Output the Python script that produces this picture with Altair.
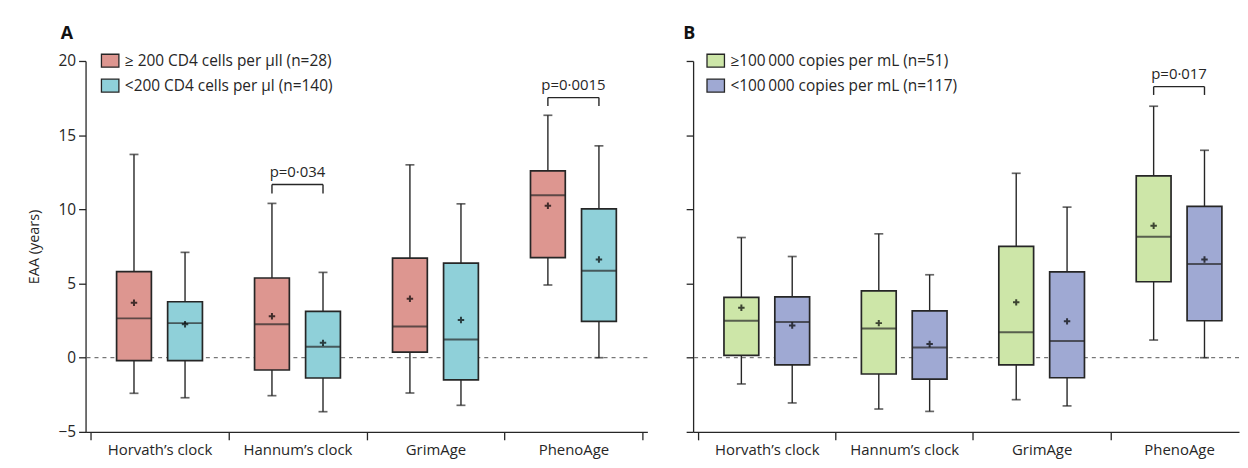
import altair as alt
import pandas as pd

FONT = "Open Sans"
INK = "#262626"

clocks = ["Horvath\u2019s clock", "Hannum\u2019s clock", "GrimAge", "PhenoAge"]

# ---------- Panel A: CD4 count ----------
groups_a = ["\u2265 200 CD4 cells per \u00b5ll (n=28)", "<200 CD4 cells per \u00b5l (n=140)"]
colors_a = ["#dd9690", "#8fd0d9"]
# per clock: [group0, group1]
a_low = [[-2.4, -2.7], [-2.56, -3.64], [-2.38, -3.21], [4.9, 0.0]]
a_q1 = [[-0.2, -0.2], [-0.83, -1.37], [0.38, -1.5], [6.75, 2.45]]
a_med = [[2.65, 2.33], [2.26, 0.74], [2.11, 1.23], [10.95, 5.86]]
a_q3 = [[5.8, 3.77], [5.37, 3.12], [6.71, 6.37], [12.59, 10.03]]
a_high = [[13.7, 7.1], [10.4, 5.75], [13.0, 10.37], [16.34, 14.28]]
a_mean = [[3.7, 2.26], [2.8, 1.0], [3.97, 2.54], [10.24, 6.62]]
a_brk_clock = [2, 4]
a_brk_y = [11.67, 17.53]
a_brk_drop = [11.07, 16.97]
a_brk_p = ["p=0\u00b7034", "p=0\u00b70015"]

# ---------- Panel B: viral load ----------
groups_b = ["\u2265100\u2009000 copies per mL (n=51)", "<100\u2009000 copies per mL (n=117)"]
colors_b = ["#cde6a8", "#9fa9d3"]
b_low = [[-1.77, -3.05], [-3.46, -3.62], [-2.83, -3.25], [1.19, 0.0]]
b_q1 = [[0.16, -0.49], [-1.1, -1.44], [-0.49, -1.35], [5.12, 2.49]]
b_med = [[2.49, 2.4], [1.97, 0.69], [1.71, 1.12], [8.15, 6.31]]
b_q3 = [[4.06, 4.1], [4.51, 3.16], [7.5, 5.79], [12.26, 10.2]]
b_high = [[8.1, 6.82], [8.35, 5.59], [12.43, 10.15], [16.95, 13.98]]
b_mean = [[3.37, 2.17], [2.33, 0.92], [3.73, 2.45], [8.89, 6.62]]
b_brk_clock = [4]
b_brk_y = [18.27]
b_brk_drop = [17.71]
b_brk_p = ["p=0\u00b7017"]

OFF = 0.185


def box_df(groups, low, q1, med, q3, high, mean):
    rows = []
    for ci, clock in enumerate(clocks):
        for gi, g in enumerate(groups):
            rows.append(dict(clock=clock, group=g, pos=ci + 1 + (OFF if gi else -OFF),
                             low=low[ci][gi], q1=q1[ci][gi], med=med[ci][gi],
                             q3=q3[ci][gi], high=high[ci][gi], mean=mean[ci][gi]))
    return pd.DataFrame(rows)


def brk_df(bc, by, bd, bp):
    rows = []
    for c, y, d, p in zip(bc, by, bd, bp):
        rows.append(dict(x=c - OFF, x2=c + OFF, y=y, y2=y, p=p, kind="h"))
        rows.append(dict(x=c - OFF, x2=c - OFF, y=y, y2=d, p=p, kind="v"))
        rows.append(dict(x=c + OFF, x2=c + OFF, y=y, y2=d, p=p, kind="v"))
    return pd.DataFrame(rows)


label_expr = " : ".join(
    f"datum.value == {i + 1} ? '{c}'" for i, c in enumerate(clocks)) + " : ''"


def panel(letter, groups, colors, df, bdf, xmax, width, show_y, legend_x, title_dx):
    xscale = alt.Scale(domain=[0.5, xmax], nice=False, zero=False)
    yscale = alt.Scale(domain=[-5, 20], nice=False, zero=False)
    xaxis = alt.Axis(
        values=[0.5, 1, 1.5, 2, 2.5, 3, 3.5, 4, 4.5], labelExpr=label_expr,
        title=None, grid=False, tickSize=8, tickWidth=1.3,
        tickColor={"condition": {"test": "datum.value % 1 != 0", "value": INK}, "value": "transparent"},
        domainColor=INK, domainWidth=1.3, labelFont=FONT, labelFontSize=15,
        labelColor=INK, labelPadding=3, labelFlush=False, labelOverlap=False)
    if show_y:
        yaxis = alt.Axis(values=[-5, 0, 5, 10, 15, 20], title="EAA (years)", grid=False,
                         tickSize=7, tickWidth=1.3, domainColor=INK, domainWidth=1.3,
                         tickColor=INK, labelFont=FONT, labelFontSize=15.5, labelColor=INK,
                         labelPadding=3, titleFont=FONT, titleFontSize=14.5,
                         titleFontWeight="normal", titleColor=INK, titlePadding=17)
    else:
        yaxis = alt.Axis(values=[-5, 0, 5, 10, 15, 20], title=None, labels=False, grid=False,
                         tickSize=7, tickWidth=1.3, domainColor=INK, domainWidth=1.3,
                         tickColor=INK)

    base = alt.Chart(df)
    X = alt.X("pos:Q", scale=xscale, axis=xaxis)

    zero = alt.Chart(pd.DataFrame({"z": [0]})).mark_rule(
        strokeDash=[4, 4], color="#555", strokeWidth=1).encode(
        y=alt.Y("z:Q", scale=yscale, axis=yaxis))

    whisk = base.mark_rule(color=INK, strokeWidth=1.4).encode(
        x=X, y=alt.Y("low:Q", scale=yscale, axis=yaxis), y2="high:Q")
    cap_lo = base.mark_tick(orient="horizontal", size=9, thickness=1.7, color=INK).encode(
        x=X, y=alt.Y("low:Q", scale=yscale, axis=yaxis))
    cap_hi = base.mark_tick(orient="horizontal", size=9, thickness=1.7, color=INK).encode(
        x=X, y=alt.Y("high:Q", scale=yscale, axis=yaxis))
    box = base.mark_bar(size=35, stroke=INK, strokeWidth=1.7, opacity=1).encode(
        x=X, y=alt.Y("q1:Q", scale=yscale, axis=yaxis), y2="q3:Q",
        color=alt.Color("group:N", scale=alt.Scale(domain=groups, range=colors),
                        legend=alt.Legend(
                            orient="none", legendX=legend_x, legendY=-8, title=None,
                            symbolType="M-1.35,-1H1.35V1H-1.35Z", symbolSize=169,
                            symbolStrokeColor=INK, symbolStrokeWidth=1.3, symbolOpacity=1,
                            labelFont=FONT, labelFontSize=15.5, labelColor=INK,
                            labelLimit=500, labelOffset=7, rowPadding=6)))
    median = base.mark_tick(orient="horizontal", size=35, thickness=2, color=INK).encode(
        x=X, y=alt.Y("med:Q", scale=yscale, axis=yaxis))
    mean = base.mark_point(shape="M-1,0H1M0,-1V1", size=42, filled=False,
                           stroke="#000", strokeWidth=2).encode(
        x=X, y=alt.Y("mean:Q", scale=yscale, axis=yaxis))

    bb = alt.Chart(bdf)
    brk = bb.mark_rule(color=INK, strokeWidth=1.4).encode(
        x=alt.X("x:Q", scale=xscale, axis=xaxis), x2="x2:Q",
        y=alt.Y("y:Q", scale=yscale, axis=yaxis), y2="y2:Q")
    ptxt = bb.transform_filter("datum.kind == 'h'").transform_calculate(
        xm="(datum.x + datum.x2) / 2", ym="datum.y + 0.3").mark_text(
        font=FONT, fontSize=15, color=INK, baseline="bottom", align="center").encode(
        x=alt.X("xm:Q", scale=xscale, axis=xaxis),
        y=alt.Y("ym:Q", scale=yscale, axis=yaxis), text="p:N")

    return alt.layer(zero, whisk, cap_lo, cap_hi, box, median, mean, brk, ptxt).properties(
        width=width, height=373,
        title=alt.TitleParams(letter, anchor="start", frame="group", dx=title_dx,
                              font=FONT, fontSize=18, fontWeight="bold", color="#111",
                              offset=10))


dfa = box_df(groups_a, a_low, a_q1, a_med, a_q3, a_high, a_mean)
dfb = box_df(groups_b, b_low, b_q1, b_med, b_q3, b_high, b_mean)
bra = brk_df(a_brk_clock, a_brk_y, a_brk_drop, a_brk_p)
brb = brk_df(b_brk_clock, b_brk_y, b_brk_drop, b_brk_p)

pa = panel("A", groups_a, colors_a, dfa, bra, 4.5, 565, True, 17, -25)
pb = panel("B", groups_b, colors_b, dfb, brb, 4.4, 549, False, 15, -10)

chart = alt.hconcat(pa, pb, spacing=35).resolve_scale(color="independent").resolve_legend(
    color="independent").properties(
    padding={"left": 18, "top": 16, "right": 0, "bottom": 0},
    background="white").configure_view(stroke=None)

chart.save("out.html", embed_options={"renderer": "svg", "actions": False})
